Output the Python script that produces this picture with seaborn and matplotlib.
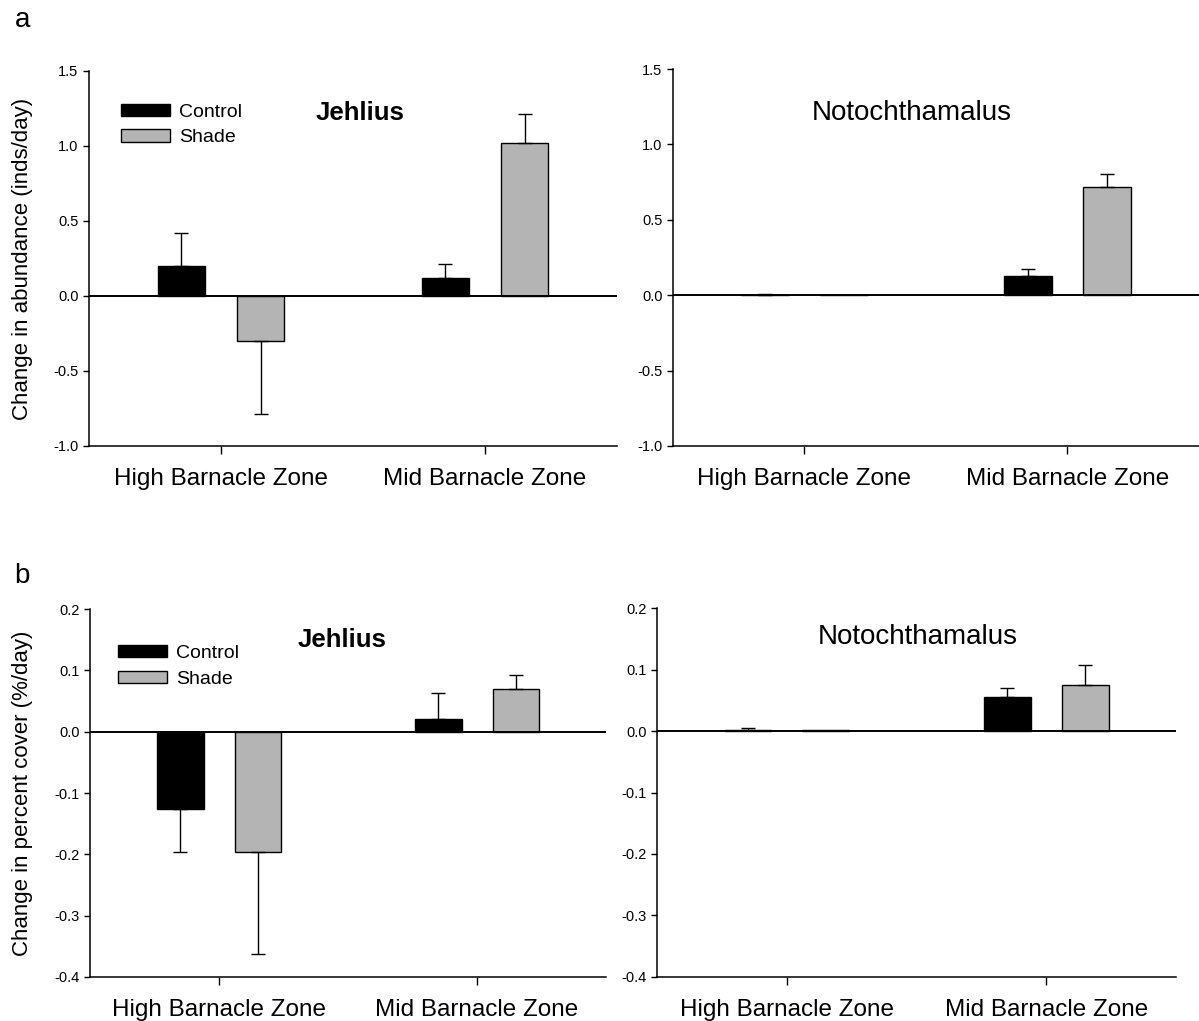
import numpy as np
import pandas as pd
import matplotlib
matplotlib.use("Agg")
import matplotlib.pyplot as plt
from matplotlib.patches import Patch
from matplotlib.ticker import FormatStrFormatter, MultipleLocator
import seaborn as sns

zones = ["High Barnacle Zone", "Mid Barnacle Zone"]
treatments = ["Control", "Shade"]

# (a) change in abundance (inds/day): means and SE per zone
jeh_abund_control = [0.20, 0.12]
jeh_abund_control_se = [0.22, 0.09]
jeh_abund_shade = [-0.30, 1.02]
jeh_abund_shade_se = [0.49, 0.19]

noto_abund_control = [0.002, 0.127]
noto_abund_control_se = [0.005, 0.044]
noto_abund_shade = [0.0, 0.72]
noto_abund_shade_se = [0.0, 0.084]

# (b) change in percent cover (%/day)
jeh_cover_control = [-0.126, 0.020]
jeh_cover_control_se = [0.071, 0.043]
jeh_cover_shade = [-0.197, 0.069]
jeh_cover_shade_se = [0.166, 0.024]

noto_cover_control = [0.0015, 0.055]
noto_cover_control_se = [0.0035, 0.015]
noto_cover_shade = [0.001, 0.075]
noto_cover_shade_se = [0.0, 0.032]

bar_colors = ["black", "#b4b4b4"]

sns.set_theme(style="ticks")
plt.rcParams["font.family"] = ["Liberation Sans", "DejaVu Sans"]
plt.rcParams.update({
    "axes.unicode_minus": False,
    "axes.edgecolor": "black",
    "axes.labelcolor": "black",
    "xtick.color": "black",
    "ytick.color": "black",
    "text.color": "black",
    "axes.linewidth": 1.1,
})

fig = plt.figure(figsize=(11.99, 10.21), dpi=100)
ax_tl = fig.add_axes([0.0742, 0.5632, 0.4404, 0.3673])
ax_tr = fig.add_axes([0.5613, 0.5632, 0.4387, 0.3692])
ax_bl = fig.add_axes([0.0751, 0.0431, 0.4304, 0.3604])
ax_br = fig.add_axes([0.5480, 0.0431, 0.4329, 0.3614])


def panel(ax, control, control_se, shade, shade_se, ylim, step,
          title, title_pos, title_kw, ylabel=None, ylabel_x=None,
          legend_pos=None):
    df = pd.DataFrame({
        "zone": zones * 2,
        "treatment": ["Control"] * 2 + ["Shade"] * 2,
        "value": list(control) + list(shade),
    })
    sns.barplot(data=df, x="zone", y="value", hue="treatment",
                order=zones, hue_order=treatments, palette=bar_colors,
                saturation=1, edgecolor="black", linewidth=1.0,
                width=0.6, gap=0.4, errorbar=None, legend=False, ax=ax)

    # one-sided standard-error bars pointing away from zero
    for cont, means, ses in zip(ax.containers, [control, shade],
                                [control_se, shade_se]):
        for bar, m, s in zip(cont, means, ses):
            if s <= 0:
                continue
            x = bar.get_x() + bar.get_width() / 2
            yerr = [[0], [s]] if m >= 0 else [[s], [0]]
            ax.errorbar(x, m, yerr=yerr, fmt="none", ecolor="black",
                        elinewidth=1.0, capsize=5, capthick=1.0)

    ax.axhline(0, color="black", lw=1.4, zorder=3)
    ax.set_xlim(-0.5, 1.5)
    ax.set_ylim(*ylim)
    ax.yaxis.set_major_locator(MultipleLocator(step))
    ax.yaxis.set_major_formatter(FormatStrFormatter("%.1f"))
    sns.despine(ax=ax)
    ax.set_xlabel("")
    ax.tick_params(axis="y", labelsize=10.5, length=4.5, width=1.0,
                   direction="out", pad=3)
    ax.tick_params(axis="x", labelsize=17.5, length=6, width=1.0,
                   direction="out", pad=10)
    if ylabel:
        ax.set_ylabel(ylabel, fontsize=16)
        ax.yaxis.set_label_coords(ylabel_x, 0.5)
    else:
        ax.set_ylabel("")

    ax.text(title_pos[0], title_pos[1], title, transform=ax.transAxes,
            ha="center", va="center", **title_kw)

    if legend_pos is not None:
        handles = [Patch(facecolor=c, edgecolor="black", linewidth=1.0)
                   for c in bar_colors]
        ax.legend(handles=handles, labels=treatments, loc="upper left",
                  bbox_to_anchor=legend_pos, frameon=False, fontsize=14,
                  handlelength=2.5, handleheight=0.6, handletextpad=0.5,
                  labelspacing=0.45, borderaxespad=0, borderpad=0)


panel(ax_tl, jeh_abund_control, jeh_abund_control_se,
      jeh_abund_shade, jeh_abund_shade_se, (-1.0, 1.5), 0.5,
      "Jehlius", (0.513, 0.888), dict(fontsize=18.5, fontweight="bold"),
      ylabel="Change in abundance (inds/day)", ylabel_x=-0.106,
      legend_pos=(0.0606, 0.913))

panel(ax_tr, noto_abund_control, noto_abund_control_se,
      noto_abund_shade, noto_abund_shade_se, (-1.0, 1.5), 0.5,
      "Notochthamalus", (0.454, 0.884), dict(fontsize=20))

panel(ax_bl, jeh_cover_control, jeh_cover_control_se,
      jeh_cover_shade, jeh_cover_shade_se, (-0.4, 0.2), 0.1,
      "Jehlius", (0.488, 0.917), dict(fontsize=18.5, fontweight="bold"),
      ylabel="Change in percent cover (%/day)", ylabel_x=-0.110,
      legend_pos=(0.054, 0.902))

panel(ax_br, noto_cover_control, noto_cover_control_se,
      noto_cover_shade, noto_cover_shade_se, (-0.4, 0.2), 0.1,
      "Notochthamalus", (0.503, 0.922), dict(fontsize=20))

fig.text(0.012, 0.980, "a", fontsize=20, ha="left", va="center")
fig.text(0.012, 0.436, "b", fontsize=20, ha="left", va="center")

fig.savefig("out.png", dpi=100, facecolor="white")
